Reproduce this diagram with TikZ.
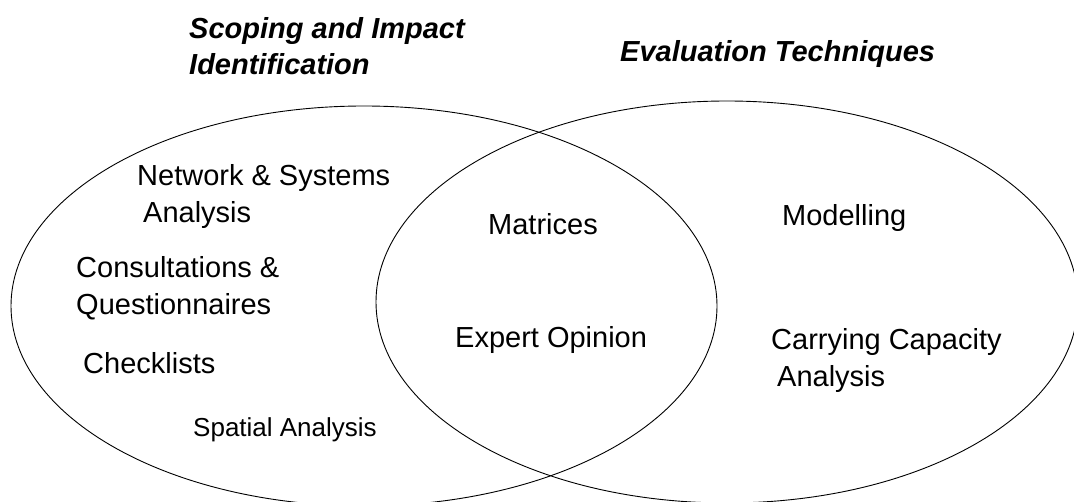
\documentclass[tikz,border=0pt]{standalone}
\usepackage{fontspec}
\setmainfont{Liberation Sans}
\begin{document}
\begin{tikzpicture}[x=1pt,y=-1pt,
  lbl/.style={anchor=base west, inner sep=0pt, font=\fontsize{29}{37}\selectfont},
  small/.style={anchor=base west, inner sep=0pt, font=\fontsize{26}{32}\selectfont},
  ttl/.style={anchor=base west, inner sep=0pt, font=\fontsize{29}{34}\selectfont\bfseries\itshape},
  ring/.style={draw=black, line width=0.9pt}]
\useasboundingbox (0,0) rectangle (1074,502);
\clip (0,0) rectangle (1074,502);
% ellipses
\draw[ring] (364,306) ellipse [x radius=353pt, y radius=200pt];
\draw[ring] (727,302) ellipse [x radius=351pt, y radius=201pt];
% titles
\node[ttl] (t1a) at (189,39) {Scoping and Impact};
\node[ttl] (t1b) at (189,75) {Identification};
\node[ttl] (t2) at (620,62) {Evaluation Techniques};
% left
\node[lbl] (n1) at (137,186) {Network \& Systems};
\node[lbl] (n2) at (143,223) {Analysis};
\node[lbl] (c1) at (76,278) {Consultations \&};
\node[lbl] (c2) at (76,315) {Questionnaires};
\node[lbl] (ch) at (83,374) {Checklists};
\node[small] (sp) at (193,437) {Spatial Analysis};
% middle
\node[lbl] (ma) at (488,235) {Matrices};
\node[lbl] (ex) at (455,348) {Expert Opinion};
% right
\node[lbl] (mo) at (782,226) {Modelling};
\node[lbl] (cc1) at (771,350) {Carrying Capacity};
\node[lbl] (cc2) at (777,387) {Analysis};
\end{tikzpicture}
\end{document}
